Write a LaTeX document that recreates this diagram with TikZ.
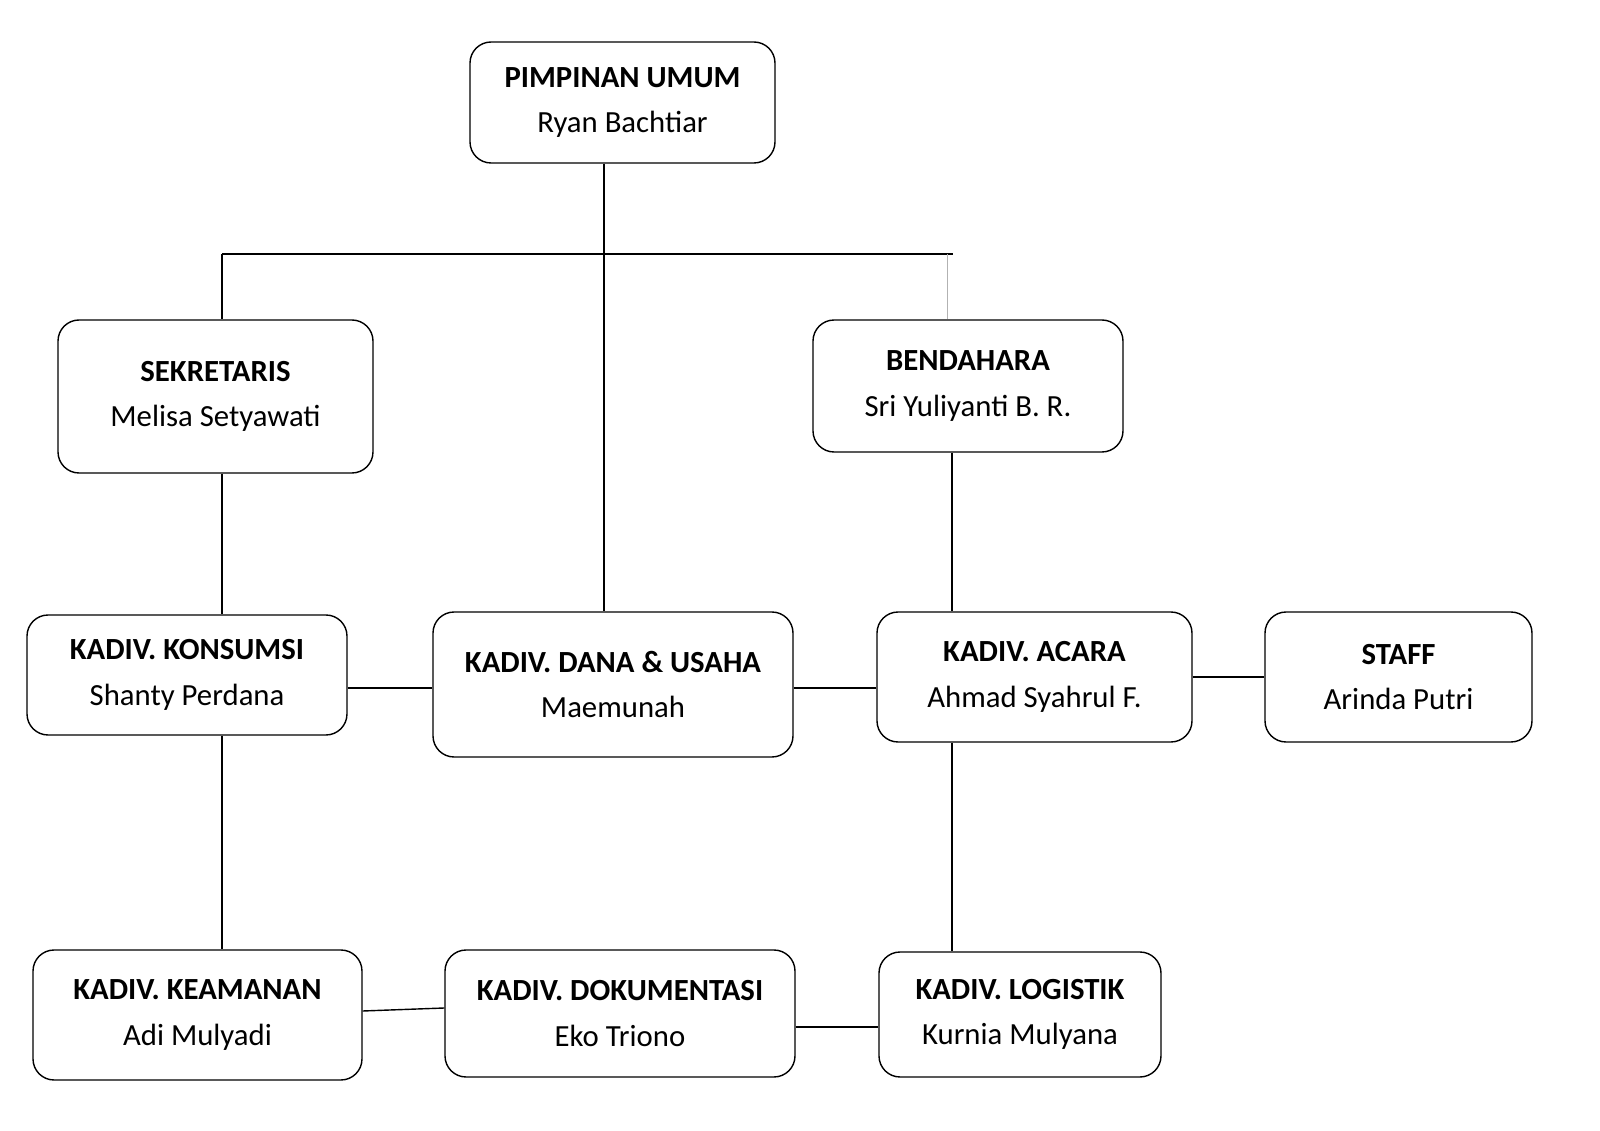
\documentclass[tikz,border=0pt]{standalone}
\usepackage{fontspec}
\setmainfont{Carlito}
\begin{document}
\begin{tikzpicture}[x=0.02cm,y=-0.02cm,
  box/.style={draw,thick,rounded corners=12pt,align=center,inner sep=0pt,
    font=\fontsize{17.5}{26}\selectfont},
  ln/.style={thick}]
\useasboundingbox (0,0) rectangle (1600,1131);
\newcommand{\bx}[7]{\node[box,minimum width=#4*0.02cm,minimum height=#5*0.02cm] (#1) at (#2,#3) {\textbf{#6}\\#7};}
\bx{pim}{622.5}{102.5}{305}{121}{PIMPINAN UMUM}{Ryan Bachtiar}
\bx{sek}{215.5}{396.5}{315}{153}{SEKRETARIS}{Melisa Setyawati}
\bx{ben}{968}{386}{310}{132}{BENDAHARA}{Sri Yuliyanti B. R.}
\bx{kon}{187}{675}{320}{120}{KADIV. KONSUMSI}{Shanty Perdana}
\bx{dana}{613}{684.5}{360}{145}{KADIV. DANA \& USAHA}{Maemunah}
\bx{aca}{1034.5}{677}{315}{130}{KADIV. ACARA}{Ahmad Syahrul F.}
\bx{staff}{1398.5}{677}{267}{130}{STAFF}{Arinda Putri}
\bx{kea}{197.5}{1015}{329}{130}{KADIV. KEAMANAN}{Adi Mulyadi}
\bx{dok}{620}{1013.5}{350}{127}{KADIV. DOKUMENTASI}{Eko Triono}
\bx{log}{1020}{1014.5}{282}{125}{KADIV. LOGISTIK}{Kurnia Mulyana}
\coordinate (hl) at (222,254);
\coordinate (hr) at (953,254);
\draw[ln] (hl) -- (hr);
\draw[ln] (pim.south -| 604,0) -- (dana.north -| 604,0);
\draw[ln] (hl) -- (sek.north -| hl);
\draw[gray!60] (947,254) -- (ben.north -| 947,0);
\draw[ln] (sek.south -| hl) -- (kon.north -| hl);
\draw[ln] (kon.south -| hl) -- (kea.north -| hl);
\draw[ln] (ben.south -| 952,0) -- (aca.north -| 952,0);
\draw[ln] (aca.south -| 952,0) -- (log.north -| 952,0);
\draw[ln] (kon.east |- 0,688) -- (dana.west |- 0,688);
\draw[ln] (dana.east |- 0,688) -- (aca.west |- 0,688);
\draw[ln] (aca.east) -- (staff.west);
\draw[ln] (kea.east |- 0,1011) -- (dok.west |- 0,1008);
\draw[ln] (dok.east |- 0,1027) -- (log.west |- 0,1027);
\end{tikzpicture}
\end{document}
